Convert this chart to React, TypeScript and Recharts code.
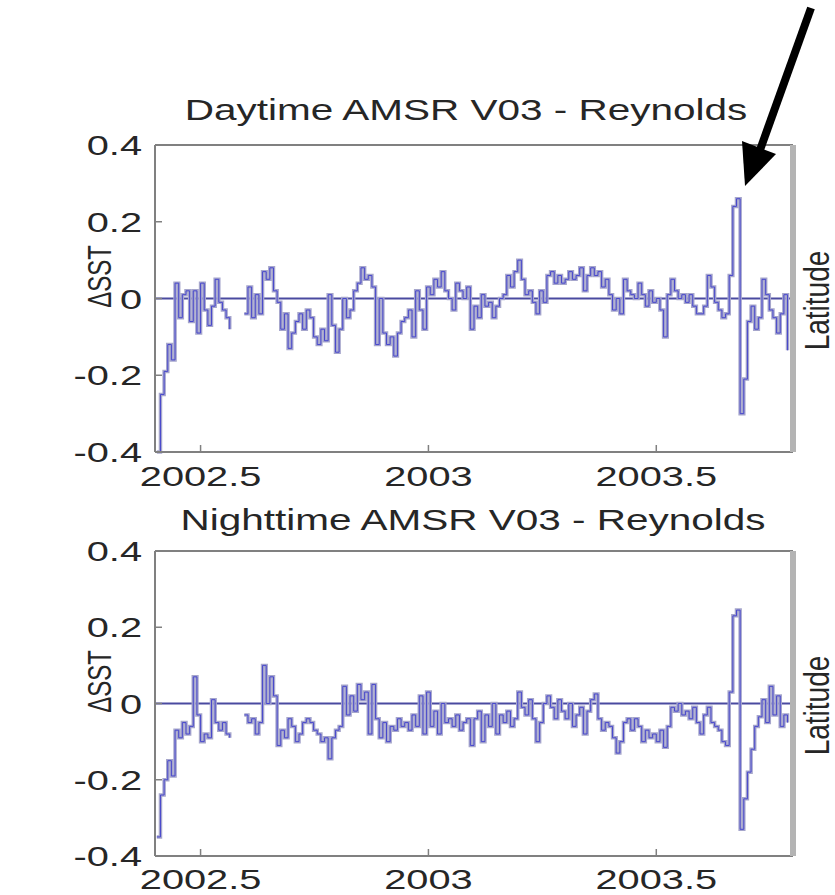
import { Label, Line, LineChart, ReferenceLine, XAxis, YAxis } from "recharts";

// sampling of both series (decimal year)
const T0 = 2002.404;
const DT = 0.008;

const X_TICKS = [2002.5, 2003, 2003.5];
const Y_TICKS = [-0.4, -0.2, 0, 0.2, 0.4];
const RIGHT_TICKS = [-0.2, 0, 0.2];

const TITLES = ["Daytime AMSR V03 - Reynolds", "Nighttime AMSR V03 - Reynolds"];

const DAY_DSST = [
  -0.4, -0.25, -0.19, -0.12, -0.16, 0.04, -0.05, 0.01, 0.02, -0.06,
  0.02, -0.09, 0.04, -0.03, -0.07, -0.02, 0.05, -0.01, -0.03, -0.05,
  -0.08, null, null, null, -0.04, 0.03, -0.05, 0.01, -0.04, 0.07,
  0.05, 0.08, 0.02, -0.01, -0.08, -0.04, -0.13, -0.09, -0.06, -0.04,
  -0.08, -0.03, -0.05, -0.1, -0.12, -0.08, -0.11, 0.01, -0.07, -0.14,
  -0.08, 0.0, -0.05, -0.03, 0.02, 0.04, 0.08, 0.05, 0.06, 0.03,
  -0.12, 0.0, -0.09, -0.12, -0.1, -0.15, -0.09, -0.06, -0.05, -0.03,
  -0.1, 0.02, -0.03, -0.08, 0.03, 0.01, 0.05, 0.03, 0.07, 0.02,
  0.0, -0.03, 0.04, 0.02, 0.0, 0.03, -0.08, -0.02, -0.05, 0.01,
  -0.02, -0.01, -0.05, -0.02, 0.0, 0.01, 0.06, 0.03, 0.07, 0.1,
  0.05, 0.01, 0.02, -0.01, -0.04, 0.02, -0.01, 0.06, 0.07, 0.04,
  0.06, 0.04, 0.05, 0.07, 0.05, 0.06, 0.08, 0.02, 0.06, 0.08,
  0.06, 0.07, 0.03, 0.05, 0.01, -0.03, 0.0, -0.04, 0.05, 0.02,
  0.01, 0.0, 0.04, 0.01, -0.02, 0.02, -0.01, 0.0, -0.03, -0.1,
  0.01, 0.05, 0.02, 0.0, 0.01, -0.01, 0.01, -0.02, -0.04, -0.04,
  -0.02, 0.06, 0.03, -0.01, -0.03, -0.05, -0.04, 0.06, 0.24, 0.26,
  -0.3, -0.21, -0.06, -0.02, -0.08, -0.05, 0.05, 0.01, -0.03, -0.05,
  -0.09, -0.04, 0.01, -0.135,
];

const NIGHT_DSST = [
  -0.35, -0.24, -0.2, -0.15, -0.19, -0.07, -0.09, -0.05, -0.08, -0.06,
  0.07, -0.03, -0.1, -0.08, -0.09, 0.01, -0.05, -0.07, -0.05, -0.08,
  -0.09, null, null, null, -0.03, -0.05, -0.04, -0.08, -0.05, 0.1,
  0.0, 0.07, 0.02, -0.11, -0.07, -0.09, -0.04, -0.06, -0.1, -0.08,
  -0.05, -0.04, -0.05, -0.07, -0.08, -0.1, -0.09, -0.145, -0.09, -0.07,
  -0.06, 0.045, -0.03, 0.02, -0.02, 0.05, 0.01, 0.03, -0.08, 0.05,
  -0.04, -0.09, -0.05, -0.1, -0.06, -0.07, -0.04, -0.06, -0.05, -0.07,
  -0.03, -0.06, 0.02, -0.08, 0.03, -0.06, -0.02, -0.08, 0.0, -0.05,
  -0.04, -0.06, -0.03, -0.07, -0.05, -0.04, -0.11, -0.04, -0.02, -0.1,
  -0.03, -0.06, 0.0, -0.08, -0.03, -0.05, -0.02, -0.06, -0.04, 0.03,
  -0.01, -0.03, 0.01, -0.04, -0.1, -0.05, 0.0, 0.02, -0.01, -0.04,
  0.01, -0.02, -0.04, 0.0, -0.06, -0.03, -0.01, -0.08, -0.02, 0.01,
  0.025, -0.04, -0.07, -0.05, -0.06, -0.09, -0.13, -0.1, -0.05, -0.04,
  -0.07, -0.04, -0.06, -0.1, -0.07, -0.09, -0.08, -0.1, -0.07, -0.115,
  -0.06, -0.01, -0.02, 0.0, -0.03, -0.02, -0.04, -0.01, -0.05, -0.08,
  -0.03, -0.01, -0.05, -0.06, -0.07, -0.1, -0.11, 0.03, 0.23, 0.245,
  -0.33, -0.25, -0.18, -0.12, -0.06, -0.035, 0.01, -0.05, 0.045, -0.03,
  0.02, -0.06, -0.03, -0.05,
];

const FONT = "'Liberation Sans', Arial, Helvetica, sans-serif";
const TEXT = "#262626";
const AXIS = "#808080";
const SX = 1.42; // the source figure is stretched horizontally

function toRows(values: (number | null)[]) {
  return values.map((v, i) => ({ t: +(T0 + i * DT).toFixed(3), v }));
}

function fmt(v: number) {
  return String(v);
}

function XTick(props: any) {
  const { x, y, payload } = props;
  return (
    <g transform={`translate(${x},${y}) scale(${SX},1)`}>
      <text x={0} y={0} textAnchor="middle" fontSize={28} fontFamily={FONT} fill={TEXT}>
        {fmt(payload.value)}
      </text>
    </g>
  );
}

function YTick(props: any) {
  const { x, y, payload } = props;
  return (
    <g transform={`translate(${x},${y}) scale(${SX},1)`}>
      <text x={0} y={0} dy="0.36em" textAnchor="end" fontSize={28} fontFamily={FONT} fill={TEXT}>
        {fmt(payload.value)}
      </text>
    </g>
  );
}

function Title({ cx, y, text }: { cx: number; y: number; text: string }) {
  return (
    <g transform={`translate(${cx},${y}) scale(1.35,1)`}>
      <text x={0} y={0} textAnchor="middle" fontSize={30} fontFamily={FONT} fill={TEXT}>
        {text}
      </text>
    </g>
  );
}

function Panel({
  top,
  data,
  xHeight,
  xMargin,
}: {
  top: number;
  data: { t: number; v: number | null }[];
  xHeight: number;
  xMargin: number;
}) {
  return (
    <div style={{ position: "absolute", left: 0, top }}>
      <LineChart width={835} height={500} data={data} margin={{ top: 144, right: 0, bottom: 0, left: 0 }}>
        <XAxis
          xAxisId="b"
          dataKey="t"
          type="number"
          domain={[2002.4, 2003.8]}
          ticks={X_TICKS}
          interval={0}
          height={xHeight}
          tickSize={-7}
          tickMargin={xMargin}
          tick={<XTick />}
          axisLine={{ stroke: AXIS, strokeWidth: 2 }}
          tickLine={{ stroke: AXIS, strokeWidth: 1.5 }}
        />
        <XAxis
          xAxisId="top"
          orientation="top"
          dataKey="t"
          type="number"
          domain={[2002.4, 2003.8]}
          ticks={X_TICKS}
          interval={0}
          height={1}
          tickSize={-7}
          tick={false}
          axisLine={{ stroke: AXIS, strokeWidth: 2 }}
          tickLine={{ stroke: AXIS, strokeWidth: 1.5 }}
        />
        <YAxis
          yAxisId="l"
          type="number"
          domain={[-0.4, 0.4]}
          ticks={Y_TICKS}
          interval={0}
          width={155}
          tickSize={-7}
          tickMargin={20}
          tick={<YTick />}
          axisLine={{ stroke: AXIS, strokeWidth: 2 }}
          tickLine={{ stroke: AXIS, strokeWidth: 1.5 }}
        >
          <Label
            content={(p: any) => {
              const vb = p.viewBox || {};
              const cx = vb.x + vb.width - 56;
              const cy = vb.y + vb.height / 2 - 22;
              return (
                <g transform={`translate(${cx},${cy}) scale(${SX},1) rotate(-90)`}>
                  <text x={0} y={0} dy="0.36em" textAnchor="middle" fontSize={24} fontFamily={FONT} fill={TEXT}>
                    ΔSST
                  </text>
                </g>
              );
            }}
          />
        </YAxis>
        <YAxis
          yAxisId="r"
          orientation="right"
          type="number"
          domain={[-0.4, 0.4]}
          ticks={RIGHT_TICKS}
          interval={0}
          width={42}
          tickSize={-7}
          tick={false}
          axisLine={{ stroke: "#b4b4b4", strokeWidth: 6 }}
          tickLine={{ stroke: AXIS, strokeWidth: 1.5 }}
        >
          <Label
            content={(p: any) => {
              const vb = p.viewBox || {};
              const cx = vb.x + 23;
              const cy = vb.y + vb.height / 2 + 2;
              return (
                <g transform={`translate(${cx},${cy}) scale(1.25,1) rotate(-90)`}>
                  <text x={0} y={0} dy="0.36em" textAnchor="middle" fontSize={28} fontFamily={FONT} fill={TEXT}>
                    Latitude
                  </text>
                </g>
              );
            }}
          />
        </YAxis>
        <ReferenceLine xAxisId="b" yAxisId="l" y={0} stroke="#4a4aa0" strokeWidth={2} />
        <Line
          xAxisId="b"
          yAxisId="l"
          type="stepAfter"
          dataKey="v"
          stroke="#a6a6cc"
          strokeWidth={3.5}
          dot={false}
          isAnimationActive={false}
        />
        <Line
          xAxisId="b"
          yAxisId="l"
          type="stepAfter"
          dataKey="v"
          stroke="#4848cc"
          strokeWidth={1}
          dot={false}
          isAnimationActive={false}
        />
      </LineChart>
    </div>
  );
}

export default function App() {
  return (
    <div
      style={{
        position: "absolute",
        left: 0,
        top: 0,
        width: 835,
        height: 895,
        overflow: "hidden",
        background: "#fff",
      }}
    >
      <Panel top={0} data={toRows(DAY_DSST)} xHeight={48} xMargin={41} />
      <Panel top={406} data={toRows(NIGHT_DSST)} xHeight={50} xMargin={40} />
      {/* titles and the annotation arrow pointing at the spike */}
      <svg width={835} height={895} style={{ position: "absolute", left: 0, top: 0, pointerEvents: "none" }}>
        <Title cx={466} y={120} text={TITLES[0]} />
        <Title cx={473} y={530} text={TITLES[1]} />
        <line x1={811} y1={8} x2={760} y2={150} stroke="#000" strokeWidth={8} />
        <polygon points="745,186 776,154 742,141" fill="#000" />
      </svg>
    </div>
  );
}
